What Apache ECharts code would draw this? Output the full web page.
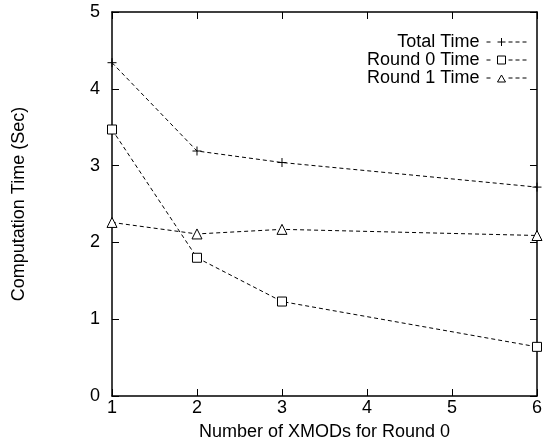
<!DOCTYPE html>
<html>
<head>
<meta charset="utf-8">
<script src="https://cdn.jsdelivr.net/npm/echarts@6/dist/echarts.min.js"></script>
<style>
  html, body { margin: 0; padding: 0; background: #fff; }
  #chart { width: 545px; height: 446px; }
</style>
</head>
<body>
<div id="chart"></div>
<script>
// data
var xmods = [1, 2, 3, 6];
var totalTime = [4.34, 3.19, 3.04, 2.72];
var round0Time = [3.47, 1.80, 1.23, 0.64];
var round1Time = [2.26, 2.11, 2.17, 2.09];
var seriesNames = ['Total Time', 'Round 0 Time', 'Round 1 Time'];

function pairs(xs, ys) {
    var res = [];
    for (var i = 0; i < xs.length; i++) {
        res.push([xs[i], ys[i]]);
    }
    return res;
}

var font = 'Liberation Sans, Arial, sans-serif';
var plus = 'path://M0,5L10,5M5,0L5,10';
// legend samples "-+---" drawn in a 40x10 box
var dashTail = 'M22,5L26,5M29,5L33,5M36,5L40,5';
var legendIcons = [
    'path://M0,5L4,5M0,0L0,0M40,10L40,10M11,5L19,5M15,1L15,9' + dashTail,
    'path://M0,5L4,5M0,0L0,0M40,10L40,10M11,1L19,1L19,9L11,9Z' + dashTail,
    'path://M0,5L4,5M0,0L0,0M40,10L40,10M11,9L15,2L19,9Z' + dashTail
];

function lineSeries(name, data, symbol, size) {
    return {
        name: name,
        type: 'line',
        data: pairs(xmods, data),
        symbol: symbol,
        symbolSize: size,
        showAllSymbol: true,
        animation: false,
        lineStyle: { color: '#000', width: 1, type: [4, 3] },
        itemStyle: { color: '#fff', borderColor: '#000', borderWidth: 1 }
    };
}

var axisLine = { show: true, onZero: false, lineStyle: { color: '#000', width: 1.5 } };
var axisTick = { show: true, inside: true, length: 7, lineStyle: { color: '#000', width: 1 } };

var chart = echarts.init(document.getElementById('chart'));
chart.setOption({
    animation: false,
    textStyle: { fontFamily: font, color: '#000' },
    grid: { left: 112, right: 1.5, top: 12, bottom: 48 },
    legend: {
        orient: 'vertical',
        right: 13,
        top: 28,
        align: 'right',
        itemGap: 0,
        itemWidth: 40,
        itemHeight: 10,
        textStyle: { fontSize: 18, lineHeight: 17.5, color: '#000', fontFamily: font, padding: [0, 2, 0, 0] },
        data: [
            { name: seriesNames[0], icon: legendIcons[0] },
            { name: seriesNames[1], icon: legendIcons[1] },
            { name: seriesNames[2], icon: legendIcons[2] }
        ],
        itemStyle: { color: '#fff', borderColor: '#000', borderWidth: 1 }
    },
    xAxis: [{
        type: 'value',
        min: 1, max: 6, interval: 1,
        name: 'Number of XMODs for Round 0',
        nameLocation: 'middle',
        nameGap: 27,
        nameTextStyle: { fontSize: 18, color: '#000' },
        axisLine: axisLine,
        axisTick: axisTick,
        axisLabel: { fontSize: 18, color: '#000', margin: 3 },
        splitLine: { show: false }
    }, {
        type: 'value',
        position: 'top',
        min: 1, max: 6, interval: 1,
        axisLine: axisLine,
        axisTick: axisTick,
        axisLabel: { show: false },
        splitLine: { show: false }
    }],
    yAxis: [{
        type: 'value',
        min: 0, max: 5, interval: 1,
        name: 'Computation Time (Sec)',
        nameLocation: 'middle',
        nameGap: 84,
        nameTextStyle: { fontSize: 18, color: '#000' },
        axisLine: axisLine,
        axisTick: axisTick,
        axisLabel: { fontSize: 18, color: '#000', margin: 12 },
        splitLine: { show: false }
    }, {
        type: 'value',
        position: 'right',
        min: 0, max: 5, interval: 1,
        axisLine: axisLine,
        axisTick: axisTick,
        axisLabel: { show: false },
        splitLine: { show: false }
    }],
    series: [
        lineSeries(seriesNames[0], totalTime, plus, 9),
        lineSeries(seriesNames[1], round0Time, 'rect', 9),
        lineSeries(seriesNames[2], round1Time, 'triangle', 10)
    ]
});
</script>
</body>
</html>
